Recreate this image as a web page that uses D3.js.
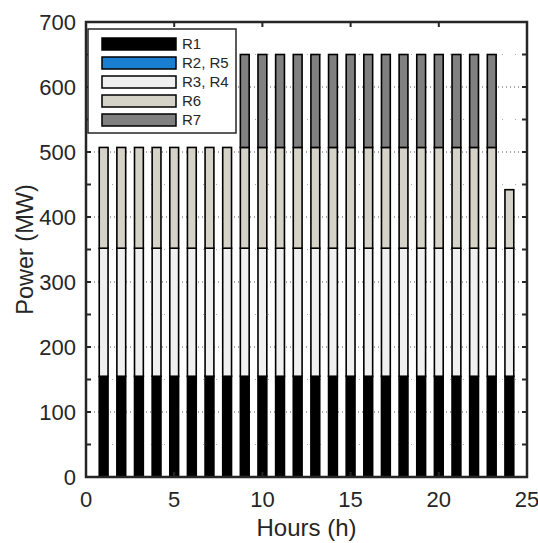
<!DOCTYPE html>
<html lang="en">
  <head>
    <meta charset="UTF-8" />
    <title>Power by hour</title>
    <script src="https://d3js.org/d3.v7.min.js"></script>
    <style>
      body {
        margin: 0;
        background: #fff;
        font-family: "Liberation Sans", Arial, sans-serif;
      }
      svg text {
        fill: #262626;
      }
    </style>
  </head>
  <body>
    <svg width="538" height="543"></svg>
    <script>
      // hourly power per unit group (MW)
      const hours = [1, 2, 3, 4, 5, 6, 7, 8, 9, 10, 11, 12, 13, 14, 15, 16, 17, 18, 19, 20, 21, 22, 23, 24];
      const r1 = [155, 155, 155, 155, 155, 155, 155, 155, 155, 155, 155, 155, 155, 155, 155, 155, 155, 155, 155, 155, 155, 155, 155, 155];
      const r2r5 = [0, 0, 0, 0, 0, 0, 0, 0, 0, 0, 0, 0, 0, 0, 0, 0, 0, 0, 0, 0, 0, 0, 0, 0];
      const r3r4 = [197, 197, 197, 197, 197, 197, 197, 197, 197, 197, 197, 197, 197, 197, 197, 197, 197, 197, 197, 197, 197, 197, 197, 197];
      const r6 = [155, 155, 155, 155, 155, 155, 155, 155, 155, 155, 155, 155, 155, 155, 155, 155, 155, 155, 155, 155, 155, 155, 155, 90];
      const r7 = [0, 0, 0, 0, 0, 0, 0, 0, 143, 143, 143, 143, 143, 143, 143, 143, 143, 143, 143, 143, 143, 143, 143, 0];

      const seriesNames = ["R1", "R2, R5", "R3, R4", "R6", "R7"];
      const seriesData = [r1, r2r5, r3r4, r6, r7];
      const colors = ["#000000", "#1a7fd0", "#f0f0f0", "#d5d2c8", "#808080"];

      const xTicks = [0, 5, 10, 15, 20, 25];
      const yTicks = [0, 100, 200, 300, 400, 500, 600, 700];
      const yMinor = [50, 150, 250, 350, 450, 550, 650];

      const margin = { left: 86, top: 22, right: 11, bottom: 66 };
      const W = 538, H = 543;
      const svg = d3.select("svg");

      const x = d3.scaleLinear().domain([0, 25]).range([margin.left, W - margin.right]);
      const y = d3.scaleLinear().domain([0, 700]).range([H - margin.bottom, margin.top]);

      // grid
      const grid = svg.append("g");
      grid.selectAll(".gmaj").data(yTicks.slice(1, -1)).enter().append("line")
        .attr("x1", x(0)).attr("x2", x(25))
        .attr("y1", (d) => y(d)).attr("y2", (d) => y(d))
        .attr("stroke", "#555").attr("stroke-width", 1)
        .attr("stroke-dasharray", "1,3");
      grid.selectAll(".gmin").data(yMinor).enter().append("line")
        .attr("x1", x(0)).attr("x2", x(25))
        .attr("y1", (d) => y(d)).attr("y2", (d) => y(d))
        .attr("stroke", "#aaa").attr("stroke-width", 1)
        .attr("stroke-dasharray", "1,12");

      // stacked bars
      const table = hours.map((h, i) => {
        const row = { hour: h };
        seriesNames.forEach((n, k) => (row[n] = seriesData[k][i]));
        return row;
      });
      const stack = d3.stack().keys(seriesNames)(table);
      const bw = x(0.5) - x(0);

      stack.forEach((layer, k) => {
        svg.append("g").selectAll("rect")
          .data(layer.filter((d) => d[1] - d[0] > 0))
          .enter().append("rect")
          .attr("x", (d) => x(d.data.hour) - bw / 2)
          .attr("width", bw)
          .attr("y", (d) => y(d[1]))
          .attr("height", (d) => y(d[0]) - y(d[1]))
          .attr("fill", colors[k])
          .attr("stroke", "#000")
          .attr("stroke-width", 1.6);
      });

      // axes box
      const axisColor = "#262626";
      svg.append("rect")
        .attr("x", x(0)).attr("y", y(700))
        .attr("width", x(25) - x(0)).attr("height", y(0) - y(700))
        .attr("fill", "none").attr("stroke", axisColor).attr("stroke-width", 2.5);

      const tickLen = 5;
      const ticks = svg.append("g").attr("stroke", axisColor).attr("stroke-width", 2);
      xTicks.forEach((t) => {
        ticks.append("line").attr("x1", x(t)).attr("x2", x(t)).attr("y1", y(0)).attr("y2", y(0) - tickLen);
        ticks.append("line").attr("x1", x(t)).attr("x2", x(t)).attr("y1", y(700)).attr("y2", y(700) + tickLen);
      });
      yTicks.concat(yMinor).forEach((t) => {
        ticks.append("line").attr("x1", x(0)).attr("x2", x(0) + tickLen).attr("y1", y(t)).attr("y2", y(t));
        ticks.append("line").attr("x1", x(25)).attr("x2", x(25) - tickLen).attr("y1", y(t)).attr("y2", y(t));
      });

      svg.append("g").selectAll("text").data(xTicks).enter().append("text")
        .attr("x", (d) => x(d)).attr("y", y(0) + 30)
        .attr("text-anchor", "middle").attr("font-size", 22)
        .text((d) => d);
      svg.append("g").selectAll("text").data(yTicks).enter().append("text")
        .attr("x", x(0) - 10).attr("y", (d) => y(d)).attr("dy", "0.36em")
        .attr("text-anchor", "end").attr("font-size", 22)
        .text((d) => d);

      svg.append("text")
        .attr("x", (x(0) + x(25)) / 2).attr("y", 536)
        .attr("text-anchor", "middle").attr("font-size", 24)
        .text("Hours (h)");
      svg.append("text")
        .attr("transform", `translate(33,${(y(0) + y(700)) / 2}) rotate(-90)`)
        .attr("text-anchor", "middle").attr("font-size", 23.5)
        .text("Power (MW)");

      // legend
      const leg = svg.append("g");
      leg.append("rect")
        .attr("x", 88).attr("y", 29).attr("width", 148).attr("height", 104)
        .attr("fill", "#fff").attr("stroke", axisColor).attr("stroke-width", 1.5);
      seriesNames.forEach((n, k) => {
        const cy = 44 + k * 19;
        leg.append("rect")
          .attr("x", 102).attr("y", cy - 6).attr("width", 74).attr("height", 12)
          .attr("fill", colors[k]).attr("stroke", "#000").attr("stroke-width", 1.5);
        leg.append("text")
          .attr("x", 182).attr("y", cy).attr("dy", "0.36em")
          .attr("font-size", 15).text(n);
      });
    </script>
  </body>
</html>
